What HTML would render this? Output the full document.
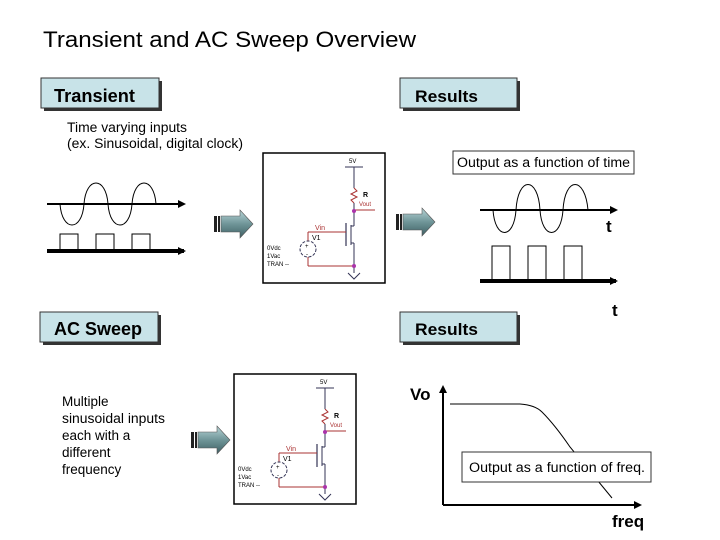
<!DOCTYPE html>
<html><head><style>
body{margin:0;background:#fff;}
svg{display:block;font-family:"Liberation Sans",sans-serif;}
</style></head><body>
<svg width="720" height="540" viewBox="0 0 720 540">
<defs>
<linearGradient id="ag" x1="0" y1="0" x2="0" y2="1">
<stop offset="0" stop-color="#b9d6d8"/><stop offset="0.5" stop-color="#6f9598"/><stop offset="1" stop-color="#3e5f63"/>
</linearGradient>
<g id="barrow">
<rect x="0" y="6" width="3" height="16" fill="#222"/>
<rect x="4" y="6" width="2" height="16" fill="#222"/>
<polygon points="7,6 26,6 26,0 39,14 26,28 26,22 7,22" fill="url(#ag)" stroke="#555" stroke-width="0.6"/>
</g>
<g id="circ">
<rect x="0" y="0" width="122" height="130" fill="#fff" stroke="#000" stroke-width="1.5"/>
<text x="86" y="10" font-size="6">5V</text>
<line x1="82" y1="14" x2="100" y2="14" stroke="#335" stroke-width="1"/>
<line x1="91" y1="14" x2="91" y2="35" stroke="#335"/>
<polyline points="91,35 94,38 88,41 94,44 88,47 91,50" fill="none" stroke="#a33"/>
<line x1="91" y1="50" x2="91" y2="73" stroke="#335"/>
<text x="100" y="44" font-size="7" font-weight="bold">R</text>
<line x1="91" y1="57" x2="112" y2="57" stroke="#a33"/>
<text x="96" y="53" font-size="6" fill="#a33">Vout</text>
<circle cx="91" cy="58" r="2" fill="#a3a"/>
<line x1="83" y1="70" x2="83" y2="93" stroke="#335" stroke-width="1.2"/>
<line x1="88" y1="72" x2="88" y2="92" stroke="#335"/>
<line x1="88" y1="73" x2="91" y2="73" stroke="#335"/>
<line x1="88" y1="90" x2="91" y2="90" stroke="#335"/>
<line x1="45" y1="79" x2="83" y2="79" stroke="#a33"/>
<text x="52" y="77" font-size="7" fill="#a33">Vin</text>
<text x="49" y="87" font-size="7">V1</text>
<line x1="91" y1="90" x2="91" y2="120" stroke="#335"/>
<line x1="45" y1="113" x2="91" y2="113" stroke="#a33"/>
<circle cx="91" cy="113" r="2" fill="#a3a"/>
<line x1="45" y1="79" x2="45" y2="88" stroke="#a33"/>
<line x1="45" y1="104" x2="45" y2="113" stroke="#a33"/>
<circle cx="45" cy="96" r="8" fill="none" stroke="#335" stroke-dasharray="3,1.5"/>
<text x="42" y="95" font-size="6">+</text>
<text x="43" y="103" font-size="6">-</text>
<polyline points="85,120 91,126 97,120" fill="none" stroke="#335"/>
<text x="4" y="97" font-size="6">0Vdc</text>
<text x="4" y="105" font-size="6">1Vac</text>
<text x="4" y="113" font-size="6">TRAN --</text>
</g>
<marker id="ah" markerWidth="8" markerHeight="8" refX="6" refY="4" orient="auto" markerUnits="userSpaceOnUse"><polygon points="0,0 8,4 0,8" fill="#000"/></marker>
</defs>

<text x="43" y="47" font-size="22" textLength="373" lengthAdjust="spacingAndGlyphs">Transient and AC Sweep Overview</text>

<!-- boxes -->
<rect x="44" y="81" width="118" height="30" fill="#333"/>
<rect x="41" y="78" width="118" height="30" fill="#c8e3e8" stroke="#333"/>
<text x="54" y="102" font-size="18" font-weight="bold" textLength="81" lengthAdjust="spacingAndGlyphs">Transient</text>
<rect x="403" y="81" width="117" height="30" fill="#333"/>
<rect x="400" y="78" width="117" height="30" fill="#c8e3e8" stroke="#333"/>
<text x="415" y="102" font-size="17" font-weight="bold" textLength="63" lengthAdjust="spacingAndGlyphs">Results</text>
<rect x="43" y="315" width="118" height="30" fill="#333"/>
<rect x="40" y="312" width="118" height="30" fill="#c8e3e8" stroke="#333"/>
<text x="54" y="335" font-size="18" font-weight="bold" textLength="88" lengthAdjust="spacingAndGlyphs">AC Sweep</text>
<rect x="403" y="315" width="117" height="30" fill="#333"/>
<rect x="400" y="312" width="117" height="30" fill="#c8e3e8" stroke="#333"/>
<text x="415" y="335" font-size="17" font-weight="bold" textLength="63" lengthAdjust="spacingAndGlyphs">Results</text>

<text x="67" y="132" font-size="13.5" textLength="120" lengthAdjust="spacingAndGlyphs">Time varying inputs</text>
<text x="67" y="148" font-size="13.5" textLength="176" lengthAdjust="spacingAndGlyphs">(ex. Sinusoidal, digital clock)</text>

<!-- left waves -->
<line x1="47" y1="204" x2="184" y2="204" stroke="#000" stroke-width="2" marker-end="url(#ah)"/>
<path d="M60,204 C62,232 82,232 84,204 C86,176 106,176 108,204 C110,232 130,232 132,204 C134,176 154,176 156,204" fill="none" stroke="#000"/>
<line x1="47" y1="251" x2="184" y2="251" stroke="#000" stroke-width="4" marker-end="url(#ah)"/>
<polyline points="60,251 60,234 78,234 78,251 96,251 96,234 114,234 114,251 132,251 132,234 150,234 150,251" fill="none" stroke="#000"/>

<use href="#barrow" x="214" y="210"/>
<use href="#barrow" x="396" y="208"/>
<use href="#barrow" x="191" y="426"/>

<use href="#circ" x="263" y="153"/>
<use href="#circ" x="234" y="374"/>

<!-- output time -->
<rect x="453" y="151" width="181" height="23" fill="#fff" stroke="#333"/>
<text x="457" y="167" font-size="13.5" textLength="173" lengthAdjust="spacingAndGlyphs">Output as a function of time</text>
<line x1="480" y1="210" x2="616" y2="210" stroke="#000" stroke-width="2" marker-end="url(#ah)"/>
<path d="M493,210 C495,240 514,240 516,210 C518,176 538,176 540,210 C542,240 561,240 563,210 C565,176 585,176 588,210" fill="none" stroke="#000"/>
<text x="606" y="232" font-size="17" font-weight="bold">t</text>
<line x1="480" y1="281" x2="616" y2="281" stroke="#000" stroke-width="4" marker-end="url(#ah)"/>
<polyline points="492,281 492,246 510,246 510,281 528,281 528,246 546,246 546,281 564,281 564,246 582,246 582,281" fill="none" stroke="#000"/>
<text x="612" y="316" font-size="17" font-weight="bold">t</text>

<!-- bottom left text -->
<text font-size="13.5"><tspan x="62" y="406">Multiple</tspan><tspan x="62" y="423" textLength="103" lengthAdjust="spacingAndGlyphs">sinusoidal inputs</tspan><tspan x="62" y="440">each with a</tspan><tspan x="62" y="457">different</tspan><tspan x="62" y="474">frequency</tspan></text>

<!-- freq plot -->
<line x1="443" y1="505" x2="443" y2="387" stroke="#000" stroke-width="2" marker-end="url(#ah)"/>
<line x1="443" y1="505" x2="640" y2="505" stroke="#000" stroke-width="2" marker-end="url(#ah)"/>
<path d="M450,404 L520,404 Q535,405 542,412 Q555,425 570,447 L612,498" fill="none" stroke="#000"/>
<text x="410" y="400" font-size="17" font-weight="bold">Vo</text>
<rect x="462" y="452" width="189" height="30" fill="#fff" stroke="#333"/>
<text x="469" y="472" font-size="13.5" textLength="176" lengthAdjust="spacingAndGlyphs">Output as a function of freq.</text>
<text x="612" y="527" font-size="17" font-weight="bold">freq</text>
</svg>
</body></html>
